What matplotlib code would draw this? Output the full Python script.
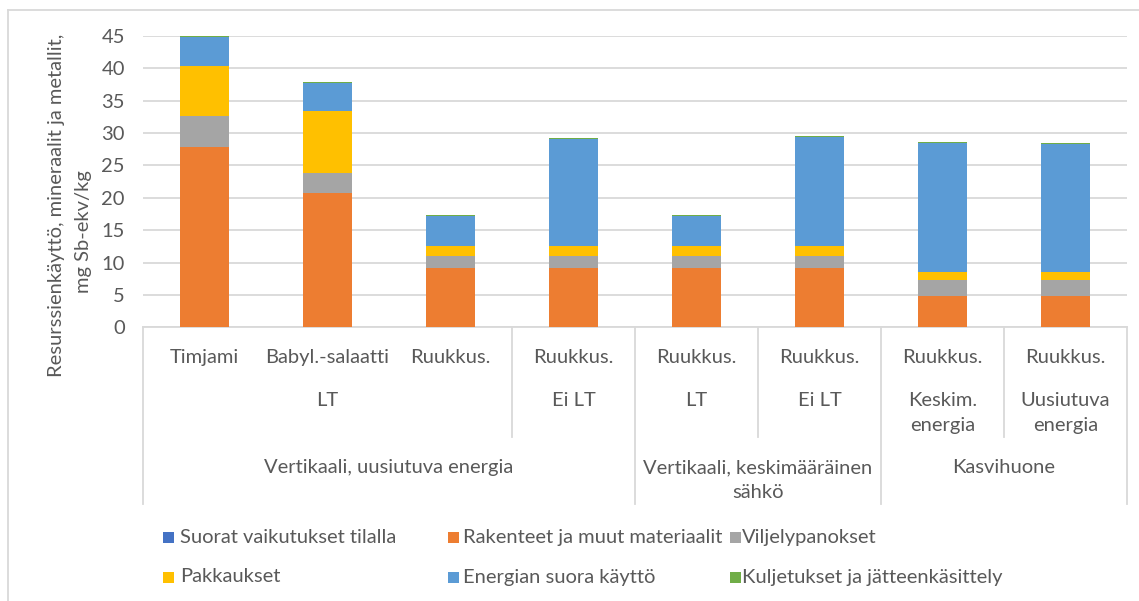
import matplotlib
matplotlib.use("Agg")
import matplotlib.pyplot as plt
from matplotlib.transforms import blended_transform_factory
from matplotlib.lines import Line2D
from matplotlib.patches import Rectangle

# ---------------- data ----------------
categories = ["Timjami", "Babyl.-salaatti", "Ruukkus.", "Ruukkus.",
              "Ruukkus.", "Ruukkus.", "Ruukkus.", "Ruukkus."]
# (label, first category index, last category index)
level2 = [("LT", 0, 2), ("Ei LT", 3, 3), ("LT", 4, 4), ("Ei LT", 5, 5),
          ("Keskim.\nenergia", 6, 6), ("Uusiutuva\nenergia", 7, 7)]
level3 = [("Vertikaali, uusiutuva energia", 0, 3),
          ("Vertikaali, keskimääräinen\nsähkö", 4, 5),
          ("Kasvihuone", 6, 7)]

series_names = ["Suorat vaikutukset tilalla", "Rakenteet ja muut materiaalit",
                "Viljelypanokset", "Pakkaukset", "Energian suora käyttö",
                "Kuljetukset ja jätteenkäsittely"]
suorat = [0.0, 0.0, 0.0, 0.0, 0.0, 0.0, 0.0, 0.0]
rakenteet = [27.9, 20.7, 9.2, 9.2, 9.2, 9.2, 4.8, 4.8]
viljely = [4.8, 3.15, 1.75, 1.75, 1.75, 1.75, 2.45, 2.45]
pakkaukset = [7.7, 9.55, 1.6, 1.6, 1.6, 1.6, 1.25, 1.25]
energia = [4.5, 4.4, 4.6, 16.6, 4.6, 16.8, 20.0, 19.8]
kuljetus = [0.15, 0.15, 0.15, 0.15, 0.15, 0.15, 0.15, 0.15]
series_values = [suorat, rakenteet, viljely, pakkaukset, energia, kuljetus]
colors = ["#4472C4", "#ED7D31", "#A5A5A5", "#FFC000", "#5B9BD5", "#70AD47"]

y_ticks = [0, 5, 10, 15, 20, 25, 30, 35, 40, 45]
ylabel1 = "Resurssienkäyttö, mineraalit ja metallit,"
ylabel2 = "mg Sb-ekv/kg"

# ---------------- style ----------------
W, H = 1139, 601
TXT = "#595959"
GRID = "#D9D9D9"
FONT = "Lato"
FS = 14.5
plt.rcParams["font.family"] = [FONT, "DejaVu Sans"]


def fy(px):
    return 1 - px / H


def fx(px):
    return px / W


fig = plt.figure(figsize=(W / 100, H / 100), dpi=100)
x0, x1, y_top, y_bot = 143, 1127, 36, 327.3
ax = fig.add_axes([fx(x0), fy(y_bot), fx(x1) - fx(x0), fy(y_top) - fy(y_bot)])

n = len(categories)
xs = list(range(n))
bottom = [0.0] * n
for name, vals, col in zip(series_names, series_values, colors):
    ax.bar(xs, vals, width=0.4, bottom=bottom, color=col, label=name, zorder=3)
    bottom = [b + v for b, v in zip(bottom, vals)]

ax.set_xlim(-0.5, n - 0.5)
ax.set_ylim(0, 45)
ax.set_yticks(y_ticks)
ax.set_yticklabels([str(t) for t in y_ticks], fontsize=FS, color=TXT)
ax.tick_params(axis="y", length=0, pad=13)
ax.set_xticks([])
ax.grid(axis="y", color=GRID, linewidth=1.3, zorder=0)
for s in ["left", "right", "top"]:
    ax.spines[s].set_visible(False)
ax.spines["bottom"].set_color(GRID)
ax.spines["bottom"].set_linewidth(1.3)

tr = blended_transform_factory(ax.transData, fig.transFigure)


def draw_label(text, xc, baseline, gap=24.5):
    for i, line in enumerate(text.split("\n")):
        ax.text(xc, fy(baseline + i * gap), line, transform=tr, ha="center",
                va="baseline", fontsize=FS, color=TXT)


# level 1
for i, c in enumerate(categories):
    draw_label(c, i, 363)
# level 2
for lab, a, b in level2:
    draw_label(lab, (a + b) / 2, 406)
# level 3
for lab, a, b in level3:
    draw_label(lab, (a + b) / 2, 473)

# separators
ends = {}
for lab, a, b in level2:
    ends[b + 0.5] = 437
for lab, a, b in level3:
    ends[a - 0.5] = 504
    ends[b + 0.5] = 504
for xpos, yend in ends.items():
    ax.add_line(Line2D([xpos, xpos], [fy(y_bot), fy(yend)], transform=tr,
                       color=GRID, linewidth=1.3, clip_on=False))

# y label
fig.text(fx(57), fy(205), ylabel1, rotation=90, ha="center", va="center",
         fontsize=FS, color=TXT)
fig.text(fx(84), fy(232), ylabel2, rotation=90, ha="center", va="center",
         fontsize=FS, color=TXT)

# legend (row-major like the original)
leg_x_marker = [163, 448, 730]
leg_x_text = [180, 463, 742]
leg_y = [537.5, 577]
for k, (name, col) in enumerate(zip(series_names, colors)):
    r, c = divmod(k, 3)
    fig.patches.append(Rectangle((fx(leg_x_marker[c]), fy(leg_y[r] + 5.5)),
                                 11 / W, 11 / H, transform=fig.transFigure,
                                 facecolor=col, edgecolor="none"))
    fig.text(fx(leg_x_text[c]), fy(leg_y[r]), name, ha="left", va="center",
             fontsize=FS, color=TXT)

# chart border
fig.add_artist(Line2D([fx(8), fx(8)], [fy(10), 0], transform=fig.transFigure,
                      color=GRID, linewidth=1.3))
fig.add_artist(Line2D([fx(8), 1], [fy(10), fy(10)], transform=fig.transFigure,
                      color=GRID, linewidth=1.3))

fig.savefig("out.png", dpi=100)
